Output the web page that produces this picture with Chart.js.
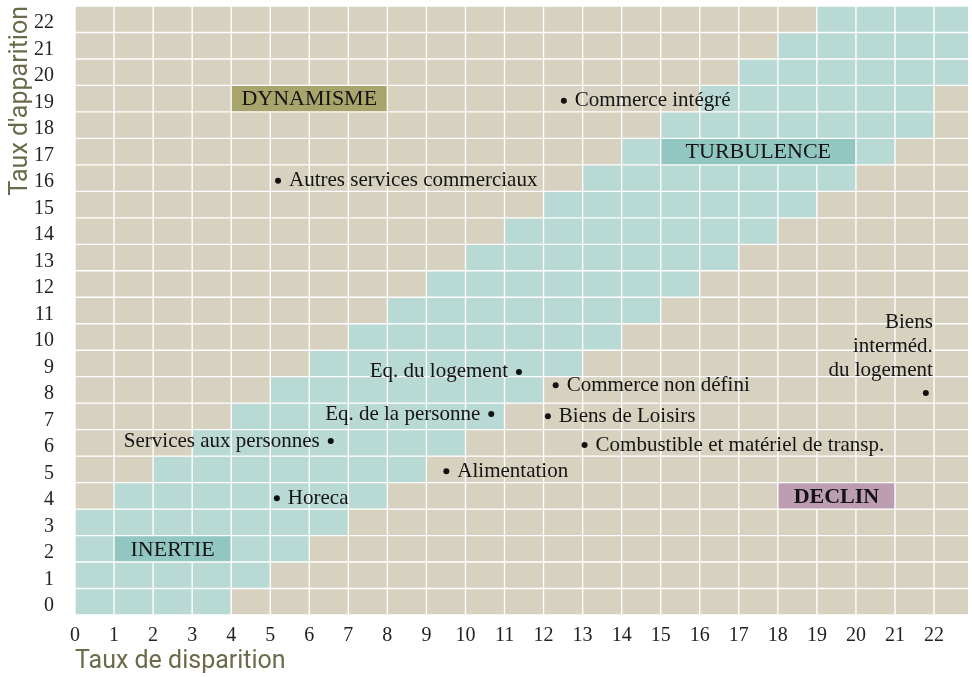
<!DOCTYPE html>
<html>
<head>
<meta charset="utf-8">
<script src="https://cdn.jsdelivr.net/npm/chart.js@4.4.0/dist/chart.umd.min.js"></script>
<style>
  html, body { margin: 0; padding: 0; background: #fff; }
  #wrap { width: 972px; height: 677px; position: relative; }
</style>
</head>
<body>
<div id="wrap"><canvas id="grid-chart"></canvas></div>
<script>
// rows = taux d'apparition (bottom to top), columns = taux de disparition
const rowLabels = ['0','1','2','3','4','5','6','7','8','9','10','11','12','13','14','15','16','17','18','19','20','21','22']
const colStarts = [0,1,2,3,4,5,6,7,8,9,10,11,12,13,14,15,16,17,18,19,20,21,22]
const xTicks = [0,1,2,3,4,5,6,7,8,9,10,11,12,13,14,15,16,17,18,19,20,21,22]

// first and last teal column of each row
const tealFrom = [0,0,0,0,1,2,3,4,5,6,7,8,9,10,11,12,13,14,15,16,17,18,19]
const tealTo   = [3,4,5,6,7,8,9,10,11,12,13,14,15,16,17,18,19,20,21,21,22,22,22]

// zones
const regionNames = ['DYNAMISME', 'TURBULENCE', 'INERTIE', 'DECLIN']
const regionRow   = ['19', '17', '2', '4']
const regionFrom  = [4, 15, 1, 18]
const regionTo    = [8, 20, 4, 21]

// secteurs
const pointNames = [
    'Autres services commerciaux',
    'Commerce intégré',
    'Eq. du logement',
    'Commerce non défini',
    'Eq. de la personne',
    'Biens de Loisirs',
    'Services aux personnes',
    'Combustible et matériel de transp.',
    'Alimentation',
    'Horeca',
    'Biens\ninterméd.\ndu logement'
]
const pointX = [5.20, 12.52, 11.37, 12.31, 10.66, 12.11, 6.55, 13.05, 9.51, 5.17, 21.79]
const pointY = [16.40, 19.42, 9.18, 8.68, 7.59, 7.51, 6.57, 6.42, 5.43, 4.41, 8.38]

// styles
const BEIGE = '#d7d1bf'
const TEAL = '#b9d9d4'
const regionColors = ['#a8a56c', '#92c6c0', '#92c6c0', '#bd9db2']
const regionBold = [false, false, false, true]
const pointSide = ['right','right','left','right','left','right','left','right','right','right','above']
const AXIS_COLOR = '#6b6b4c'
const SERIF = '"Liberation Serif", "DejaVu Serif", serif'

// one dataset per column, a floating bar in every row
let cellSets = []
for (let j = 0; j < colStarts.length; j++) {
    const c = colStarts[j]
    cellSets.push({
        type: 'bar',
        indexAxis: 'y',
        data: rowLabels.map(r => ({ x: [c, c + 1], y: r })),
        backgroundColor: rowLabels.map((r, i) => (c >= tealFrom[i] && c <= tealTo[i]) ? TEAL : BEIGE),
        borderColor: '#ffffff',
        borderWidth: 1,
        borderSkipped: false,
        grouped: false,
        categoryPercentage: 1,
        barPercentage: 1,
        order: 3
    })
}

const regionSet = {
    type: 'bar',
    indexAxis: 'y',
    data: regionNames.map((n, i) => ({ x: [regionFrom[i], regionTo[i]], y: regionRow[i] })),
    backgroundColor: regionColors,
    borderColor: '#ffffff',
    borderWidth: 1,
    borderSkipped: false,
    grouped: false,
    categoryPercentage: 1,
    barPercentage: 1,
    order: 2
}

const pointSet = {
    type: 'scatter',
    indexAxis: 'x',
    yAxisID: 'y2',
    data: pointX.map((x, i) => ({ x: x, y: pointY[i] })),
    pointRadius: 3,
    pointBackgroundColor: '#111',
    pointBorderWidth: 0,
    order: 1
}

// texts of zones and sectors
const labelPlugin = {
    id: 'labels',
    afterDatasetsDraw(chart) {
        const ctx = chart.ctx
        ctx.save()
        ctx.fillStyle = '#141414'
        ctx.textBaseline = 'middle'

        const regMeta = chart.getDatasetMeta(cellSets.length)
        regMeta.data.forEach((bar, i) => {
            ctx.font = (regionBold[i] ? 'bold ' : '') + '22px ' + SERIF
            ctx.textAlign = 'center'
            ctx.fillText(regionNames[i], (bar.x + bar.base) / 2, bar.y + 1)
        })

        const ptMeta = chart.getDatasetMeta(cellSets.length + 1)
        ctx.font = '21px ' + SERIF
        ptMeta.data.forEach((pt, i) => {
            const side = pointSide[i]
            if (side === 'right') {
                ctx.textAlign = 'left'
                ctx.fillText(pointNames[i], pt.x + 11, pt.y)
            } else if (side === 'left') {
                ctx.textAlign = 'right'
                ctx.fillText(pointNames[i], pt.x - 11, pt.y)
            } else {
                const lines = pointNames[i].split('\n')
                ctx.textAlign = 'right'
                lines.forEach((line, k) => {
                    ctx.fillText(line, pt.x + 7, pt.y - 23 - (lines.length - 1 - k) * 24)
                })
            }
        })
        ctx.restore()
    }
}

const ctx = document.getElementById('grid-chart')
const chart = new Chart(ctx, {
    type: 'bar',
    data: {
        labels: rowLabels.slice().reverse(),
        datasets: [...cellSets, regionSet, pointSet]
    },
    options: {
        indexAxis: 'y',
        responsive: true,
        maintainAspectRatio: false,
        animation: false,
        events: [],
        layout: { padding: { top: 6, right: 0, bottom: 0, left: 0 } },
        plugins: {
            legend: { display: false },
            tooltip: { enabled: false }
        },
        scales: {
            x: {
                type: 'linear',
                position: 'bottom',
                min: 0,
                max: 22.87,
                offset: false,
                grid: { display: false },
                border: { display: false },
                afterBuildTicks: (scale) => { scale.ticks = xTicks.map(v => ({ value: v })) },
                afterFit: (scale) => { scale.height = 62 },
                ticks: {
                    padding: 1,
                    maxRotation: 0,
                    autoSkip: false,
                    color: '#222',
                    font: { family: SERIF, size: 20 }
                },
                title: {
                    display: true,
                    text: 'Taux de disparition',
                    align: 'start',
                    color: AXIS_COLOR,
                    padding: { top: 0, bottom: 0 },
                    font: { family: 'Roboto', size: 25 }
                }
            },
            y: {
                type: 'category',
                position: 'left',
                offset: true,
                grid: { display: false, offset: true },
                border: { display: false },
                afterFit: (scale) => {
                    scale.width = 75
                    scale.paddingTop = 0
                    scale.paddingBottom = 0
                },
                ticks: {
                    padding: 13,
                    labelOffset: 4,
                    autoSkip: false,
                    color: '#222',
                    font: { family: SERIF, size: 20 }
                },
                title: {
                    display: true,
                    text: "Taux d'apparition",
                    align: 'end',
                    color: AXIS_COLOR,
                    padding: { top: 6, bottom: 0 },
                    font: { family: 'Roboto', size: 25 }
                }
            },
            y2: {
                type: 'linear',
                axis: 'y',
                display: false,
                offset: false,
                grid: { offset: false },
                min: 0,
                max: 23
            }
        }
    },
    plugins: [labelPlugin]
})
</script>
</body>
</html>
